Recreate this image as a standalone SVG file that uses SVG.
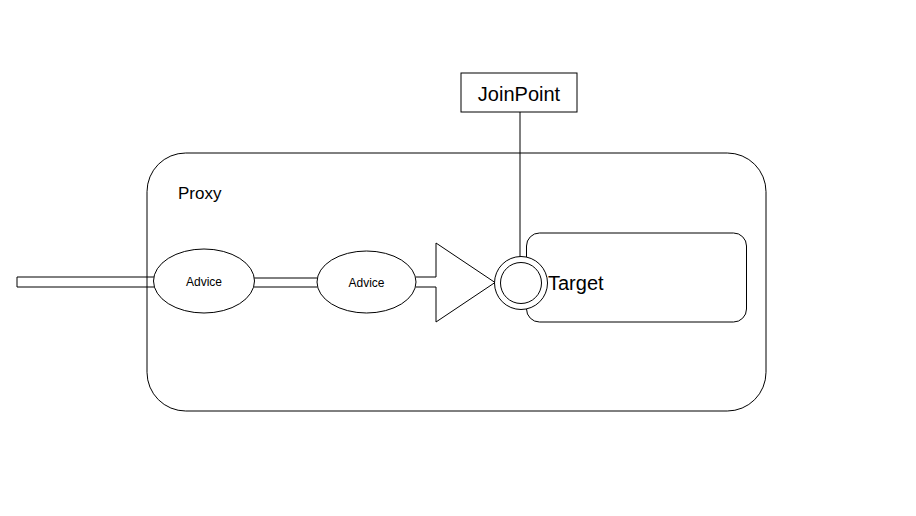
<svg xmlns="http://www.w3.org/2000/svg" width="916" height="516" viewBox="0 0 916 516">
  <style>
    .shape { fill: #ffffff; stroke: #000000; stroke-width: 1; }
    .line { fill: none; stroke: #000000; stroke-width: 1; }
    .txt { font-family: "Liberation Sans", Arial, Helvetica, sans-serif; fill: #000000; }
  </style>
  <rect width="916" height="516" fill="#ffffff"/>
  <g id="proxy">
    <rect class="shape" x="147" y="153" width="619" height="258" rx="38.7" ry="38.7"/>
    <text class="txt" x="178" y="199" font-size="17">Proxy</text>
  </g>
  <g id="target">
    <rect class="shape" x="526.5" y="233" width="220" height="89" rx="13" ry="13"/>
    <text class="txt" x="548" y="290" font-size="20">Target</text>
  </g>
  <g id="joinpoint">
    <rect class="shape" x="461" y="73" width="116" height="39"/>
    <text class="txt" x="519" y="101" font-size="20" text-anchor="middle">JoinPoint</text>
  </g>
  <g id="connectors">
    <path class="line" d="M155,277 H17 V287 H155"/>
    <path class="line" d="M254,278 H317 M254,287 H317"/>
    <path class="shape" d="M416,277 H436 V243 L495,282.5 L436,322 V287 H416"/>
    <path class="line" d="M520,112 V262.5"/>
  </g>
  <g id="advice1">
    <ellipse class="shape" cx="204" cy="281" rx="50.5" ry="32"/>
    <text class="txt" x="204" y="286" font-size="12" text-anchor="middle">Advice</text>
  </g>
  <g id="advice2">
    <ellipse class="shape" cx="366.5" cy="282" rx="49.5" ry="31"/>
    <text class="txt" x="366.5" y="287" font-size="12" text-anchor="middle">Advice</text>
  </g>
  <g id="joinpoint-circle">
    <circle class="shape" cx="521" cy="283" r="26.5"/>
    <circle class="shape" cx="521" cy="283" r="20.5"/>
  </g>
</svg>
